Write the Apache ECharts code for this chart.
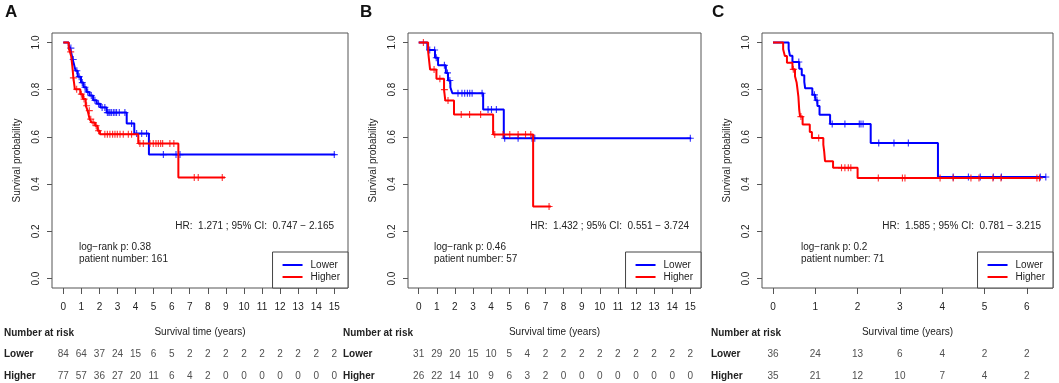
<!DOCTYPE html>
<html><head><meta charset="utf-8">
<script src="https://cdn.jsdelivr.net/npm/echarts@6/dist/echarts.min.js"></script>
<style>html,body{margin:0;padding:0;background:#fff}#c{width:1059px;height:383px}</style>
</head><body><div id="c"></div>
<script>
// ---------------- DATA ----------------
const xTicksAB = [0,1,2,3,4,5,6,7,8,9,10,11,12,13,14,15];
const xTicksC = [0,1,2,3,4,5,6];
const yTicks = [0,0.2,0.4,0.6,0.8,1.0];
const groupNames = ['Lower','Higher'];

// Panel A
const timesA_L = [0,0.30,0.38,0.45,0.52,0.60,0.68,0.80,0.98,1.12,1.28,1.45,1.65,1.85,2.05,2.40,3.51,3.93,4.74,15.05];
const survA_L  = [1,0.988,0.976,0.952,0.928,0.905,0.88,0.855,0.83,0.81,0.79,0.775,0.755,0.74,0.725,0.703,0.657,0.614,0.525,0.525];
const censA_L  = [0.42,0.55,0.75,0.88,1.05,1.20,1.35,1.55,1.75,1.95,2.15,2.30,2.44,2.52,2.58,2.66,2.77,2.86,2.95,3.10,3.41,3.78,4.06,4.34,4.61,5.54,6.24,6.46,15.0];
const timesA_H = [0,0.30,0.37,0.44,0.50,0.56,0.64,0.94,1.09,1.24,1.35,1.46,1.57,1.76,1.90,2.03,4.15,6.37,8.95];
const survA_H  = [1,0.975,0.96,0.94,0.90,0.85,0.802,0.781,0.760,0.732,0.711,0.675,0.661,0.647,0.626,0.611,0.572,0.428,0.428];
const censA_H  = [0.41,0.56,0.74,1.00,1.15,1.29,1.44,1.52,1.65,1.82,1.95,2.30,2.44,2.58,2.73,2.86,2.99,3.14,3.32,3.60,3.78,4.24,4.43,4.80,4.98,5.13,5.26,5.39,5.50,5.90,6.12,7.25,7.47,8.80];
const riskA_L = [84,64,37,24,15,6,5,2,2,2,2,2,2,2,2,2];
const riskA_H = [77,57,36,27,20,11,6,4,2,0,0,0,0,0,0,0];
const statsA = ['HR:  1.271 ; 95% CI:  0.747 \u2212 2.165', 'log\u2212rank p: 0.38', 'patient number: 161'];

// Panel B
const timesB_L = [0,0.48,0.90,1.07,1.50,1.62,1.75,1.86,3.56,4.70,15.05];
const survB_L  = [1,0.968,0.935,0.903,0.871,0.839,0.81,0.785,0.716,0.594,0.594];
const censB_L  = [0.61,0.88,0.97,1.42,1.59,1.72,2.17,2.39,2.54,2.69,2.82,2.95,3.50,3.83,4.02,4.29,4.75,5.49,6.26,6.41,15.0];
const timesB_H = [0,0.52,0.63,0.98,1.40,1.47,1.95,4.11,6.32,7.30];
const survB_H  = [1,0.962,0.885,0.846,0.80,0.754,0.695,0.61,0.305,0.305];
const censB_H  = [0.26,0.85,1.17,1.42,1.62,2.35,2.81,3.42,4.20,4.66,5.03,5.49,5.90,6.19,7.20];
const riskB_L = [31,29,20,15,10,5,4,2,2,2,2,2,2,2,2,2];
const riskB_H = [26,22,14,10,9,6,3,2,0,0,0,0,0,0,0,0];
const statsB = ['HR:  1.432 ; 95% CI:  0.551 \u2212 3.724', 'log\u2212rank p: 0.46', 'patient number: 57'];

// Panel C
const timesC_L = [0,0.37,0.40,0.46,0.62,0.68,0.74,0.76,0.93,1.00,1.05,1.10,1.35,2.31,3.90,6.45];
const survC_L  = [1,0.972,0.944,0.917,0.889,0.861,0.833,0.806,0.778,0.755,0.731,0.694,0.655,0.574,0.43,0.43];
const censC_L  = [0.61,0.98,1.04,1.40,1.70,2.04,2.08,2.13,2.50,2.86,3.20,4.26,4.62,4.90,5.21,5.40,6.32,6.45];
const timesC_H = [0,0.24,0.28,0.33,0.46,0.52,0.56,0.58,0.60,0.61,0.62,0.64,0.70,0.87,0.92,1.19,1.21,1.23,1.42,2.00,6.32];
const survC_H  = [1,0.971,0.943,0.914,0.886,0.857,0.829,0.80,0.771,0.743,0.714,0.686,0.652,0.621,0.595,0.567,0.539,0.497,0.469,0.426,0.426];
const censC_H  = [0.48,0.66,1.08,1.62,1.70,1.78,1.84,2.49,3.06,3.12,3.95,4.26,4.68,4.87,5.20,5.39,6.24,6.30];
const riskC_L = [36,24,13,6,4,2,2];
const riskC_H = [35,21,12,10,7,4,2];
const statsC = ['HR:  1.585 ; 95% CI:  0.781 \u2212 3.215', 'log\u2212rank p: 0.2', 'patient number: 71'];

// ---------------- LAYOUT / STYLE ----------------
const FONT = '"Liberation Sans", Arial, Helvetica, sans-serif';
const TXT = '#222';
const BOX = '#555';
const COLORS = ['#0000ff', '#ff0000'];
const CROSS = 'path://M4.2,0 H5.8 V4.2 H10 V5.8 H5.8 V10 H4.2 V5.8 H0 V4.2 H4.2 Z';

const panels = [
  {letter:'A', left:52, width:296, xmin:-0.625, xmax:15.76, ticks:xTicksAB,
   L:[timesA_L,survA_L,censA_L], H:[timesA_H,survA_H,censA_H], risk:[riskA_L,riskA_H], stats:statsA,
   letterX:5, tableX:4, hrX:334, lrX:79},
  {letter:'B', left:408, width:293, xmin:-0.59, xmax:15.59, ticks:xTicksAB,
   L:[timesB_L,survB_L,censB_L], H:[timesB_H,survB_H,censB_H], risk:[riskB_L,riskB_H], stats:statsB,
   letterX:360, tableX:343, hrX:689, lrX:434},
  {letter:'C', left:762, width:291, xmin:-0.26, xmax:6.62, ticks:xTicksC,
   L:[timesC_L,survC_L,censC_L], H:[timesC_H,survC_H,censC_H], risk:[riskC_L,riskC_H], stats:statsC,
   letterX:712, tableX:711, hrX:1041, lrX:801}
];
const PTOP = 33, PH = 255;

function survAt(times, surv, t) {
  let s = surv[0];
  for (let i = 0; i < times.length; i++) { if (times[i] <= t) s = surv[i]; }
  return s;
}

const grid = [], xAxis = [], yAxis = [], series = [], legend = [], graphic = [];

panels.forEach((p, i) => {
  grid[i] = {left:p.left, top:PTOP, width:p.width, height:PH, show:true, borderColor:BOX, borderWidth:1,
             backgroundColor:'transparent', containLabel:false, outerBoundsMode:'none'};
  grid[3+i] = {left:p.left, top:354, width:p.width, height:22, show:false, containLabel:false, outerBoundsMode:'none'};

  xAxis[i] = {gridIndex:i, type:'value', min:p.xmin, max:p.xmax,
    axisLine:{show:false, onZero:false}, splitLine:{show:false},
    axisTick:{show:true, customValues:p.ticks, length:6, lineStyle:{color:BOX}},
    axisLabel:{customValues:p.ticks, fontSize:10, color:TXT, margin:14, fontFamily:FONT},
    name:'Survival time (years)', nameLocation:'middle', nameGap:39,
    nameTextStyle:{fontSize:10, color:TXT, fontFamily:FONT}};
  yAxis[i] = {gridIndex:i, type:'value', min:-0.04, max:1.04,
    axisLine:{show:false, onZero:false}, splitLine:{show:false},
    axisTick:{show:true, customValues:yTicks, length:5, lineStyle:{color:BOX}},
    axisLabel:{customValues:yTicks, rotate:90, fontSize:10, color:TXT, margin:11, fontFamily:FONT,
               formatter:v => v.toFixed(1)},
    name:'Survival probability', nameLocation:'middle', nameGap:30,
    nameTextStyle:{fontSize:10, color:TXT, fontFamily:FONT}};

  xAxis[3+i] = {gridIndex:3+i, type:'value', min:p.xmin, max:p.xmax, show:false, axisLine:{onZero:false}};
  yAxis[3+i] = {gridIndex:3+i, type:'value', min:0, max:1,
    axisLine:{show:false, onZero:false}, axisTick:{show:false}, splitLine:{show:false},
    axisLabel:{customValues:[0,1], formatter:v => (v === 1 ? groupNames[0] : groupNames[1]),
               align:'left', margin:p.left - p.tableX, fontWeight:'bold', fontSize:10, color:TXT, fontFamily:FONT}};

  [p.L, p.H].forEach((g, gi) => {
    const [times, surv, cens] = g;
    series.push({type:'line', name:groupNames[gi], xAxisIndex:i, yAxisIndex:i, step:'end',
      symbol:'none', showSymbol:false, silent:true, z:2+gi,
      lineStyle:{color:COLORS[gi], width:2}, itemStyle:{color:COLORS[gi]},
      data: times.map((t, k) => [t, surv[k]])});
  });
  [p.L, p.H].forEach((g, gi) => {
    const [times, surv, cens] = g;
    series.push({type:'scatter', name:groupNames[gi], xAxisIndex:i, yAxisIndex:i, silent:true, z:2+gi,
      symbol:CROSS, symbolSize:7, itemStyle:{color:COLORS[gi]},
      data: cens.map(t => [t, survAt(times, surv, t)])});
  });
  p.risk.forEach((arr, gi) => {
    series.push({type:'scatter', name:'risk'+gi, xAxisIndex:3+i, yAxisIndex:3+i, silent:true,
      symbolSize:1, itemStyle:{color:'rgba(0,0,0,0)'},
      label:{show:true, position:'inside', formatter:q => String(q.value[2]), fontSize:10, color:TXT, fontFamily:FONT},
      data: arr.map((v, k) => [p.ticks[k], gi === 0 ? 1 : 0, v])});
  });

  legend.push({data:groupNames, orient:'vertical', right:1059 - (p.left + p.width), bottom:383 - (PTOP + PH),
    icon:'rect', itemWidth:20, itemHeight:2, itemGap:0, padding:[7,8,5,10],
    borderColor:'#444', borderWidth:1, borderRadius:0, backgroundColor:'#fff', selectedMode:false,
    textStyle:{fontSize:10, lineHeight:12, color:TXT, fontFamily:FONT, padding:[0,0,0,3]}});

  graphic.push({type:'text', x:p.letterX, y:12, style:{text:p.letter, font:'bold 17px ' + FONT, fill:'#111', textVerticalAlign:'middle'}});
  graphic.push({type:'text', x:p.tableX, y:333, style:{text:'Number at risk', font:'bold 10px ' + FONT, fill:TXT, textVerticalAlign:'middle'}});
  graphic.push({type:'text', x:p.hrX, y:226, style:{text:p.stats[0], font:'10px ' + FONT, fill:TXT, textAlign:'right', textVerticalAlign:'middle'}});
  graphic.push({type:'text', x:p.lrX, y:247, style:{text:p.stats[1], font:'10px ' + FONT, fill:TXT, textVerticalAlign:'middle'}});
  graphic.push({type:'text', x:p.lrX, y:259, style:{text:p.stats[2], font:'10px ' + FONT, fill:TXT, textVerticalAlign:'middle'}});
});

const chart = echarts.init(document.getElementById('c'), null, {renderer:'canvas'});
chart.setOption({animation:false, backgroundColor:'#fff', textStyle:{fontFamily:FONT},
  grid, xAxis, yAxis, series, legend, graphic});
</script></body></html>
